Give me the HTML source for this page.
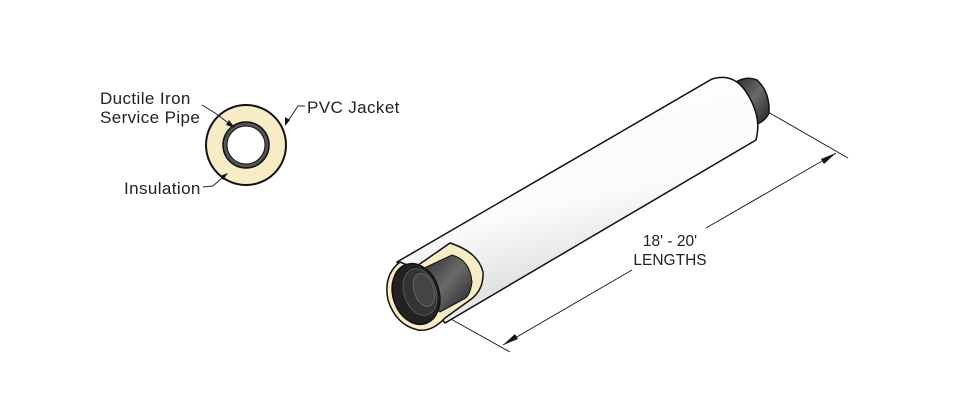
<!DOCTYPE html>
<html><head><meta charset="utf-8"><style>
html,body{margin:0;padding:0;background:#fff;width:960px;height:420px;overflow:hidden}
svg{display:block}
text{font-family:"Liberation Sans",sans-serif;fill:#222}
.c{font-size:17px;letter-spacing:0.4px}
</style></head><body>
<svg width="960" height="420" viewBox="0 0 960 420" xmlns="http://www.w3.org/2000/svg">
<defs>
<linearGradient id="jk" x1="0" y1="0" x2="0.35" y2="1">
<stop offset="0" stop-color="#ffffff"/><stop offset="0.6" stop-color="#fbfbfb"/><stop offset="0.85" stop-color="#e2e2e2"/><stop offset="1" stop-color="#f5f5f5"/>
</linearGradient>
<linearGradient id="dk" x1="0" y1="0" x2="1" y2="1">
<stop offset="0" stop-color="#2a2a2a"/><stop offset="0.5" stop-color="#6a6a6a"/><stop offset="1" stop-color="#202020"/>
</linearGradient>
</defs>
<circle cx="246" cy="145" r="40" fill="#f7ecc6" stroke="#111" stroke-width="2"/>
<circle cx="246" cy="145" r="23" fill="#555" stroke="#111" stroke-width="1.5"/>
<circle cx="246" cy="145" r="19" fill="#fff" stroke="#111" stroke-width="1"/>
<text x="100" y="104" class="c">Ductile Iron</text>
<text x="100" y="123" class="c">Service Pipe</text>
<text x="307" y="113" class="c">PVC Jacket</text>
<text x="124" y="194" class="c">Insulation</text>
<polyline points="202,105 215,113 231,125" fill="none" stroke="#222" stroke-width="1"/>
<polygon points="235,128 226,125 229,120" fill="#111"/>
<polyline points="305,106 298,106 288,121" fill="none" stroke="#222" stroke-width="1"/>
<polygon points="285,126 285,117 290,120" fill="#111"/>
<polyline points="203,187 213,186 223,177" fill="none" stroke="#222" stroke-width="1"/>
<polygon points="228,173 223,180 220,176" fill="#111"/>
<line x1="440" y1="313" x2="510" y2="352" stroke="#222" stroke-width="1"/>
<line x1="768" y1="112" x2="848" y2="158" stroke="#222" stroke-width="1"/>
<line x1="503" y1="345" x2="632" y2="270" stroke="#222" stroke-width="1"/>
<line x1="706" y1="228" x2="836" y2="153" stroke="#222" stroke-width="1"/>
<polygon points="503,345 515,334 518,339" fill="#111"/>
<polygon points="836,153 824,164 821,159" fill="#111"/>
<text x="670" y="246" font-size="15.5" text-anchor="middle">18' - 20'</text>
<text x="670" y="265" font-size="15.5" text-anchor="middle">LENGTHS</text>
<path d="M733,84 Q745,75 757,80 Q770,92 769,113 Q765,122 754,125 Z" fill="url(#dk)" stroke="#111" stroke-width="1.5"/>
<path d="M397,262 L712,79 Q735,72 748,95 Q762,118 756,140 L445,323 Z" fill="url(#jk)" stroke="#111" stroke-width="1.5"/>
<path d="M400,262 L414,268 L450,243 Q478,252 483,272 Q484,290 470,300 L445,318 Q432,332 418,330 Q396,325 388,300 Q383,275 400,262 Z" fill="#f7ecc6" stroke="#111" stroke-width="1.5"/>
<path d="M420,270 L452,255 Q470,260 472,282 Q470,298 462,300 L440,312 Q428,300 425,285 Z" fill="url(#dk)" stroke="#111" stroke-width="1"/>
<ellipse cx="416" cy="294" rx="23" ry="31" transform="rotate(-18 416 294)" fill="#222" stroke="#111" stroke-width="1.5"/>
<ellipse cx="420" cy="292" rx="16" ry="24" transform="rotate(-18 420 292)" fill="#333" stroke="#555" stroke-width="1"/>
<ellipse cx="424" cy="290" rx="10" ry="17" transform="rotate(-18 424 290)" fill="#444" stroke="#666" stroke-width="1"/>
</svg>
</body></html>
